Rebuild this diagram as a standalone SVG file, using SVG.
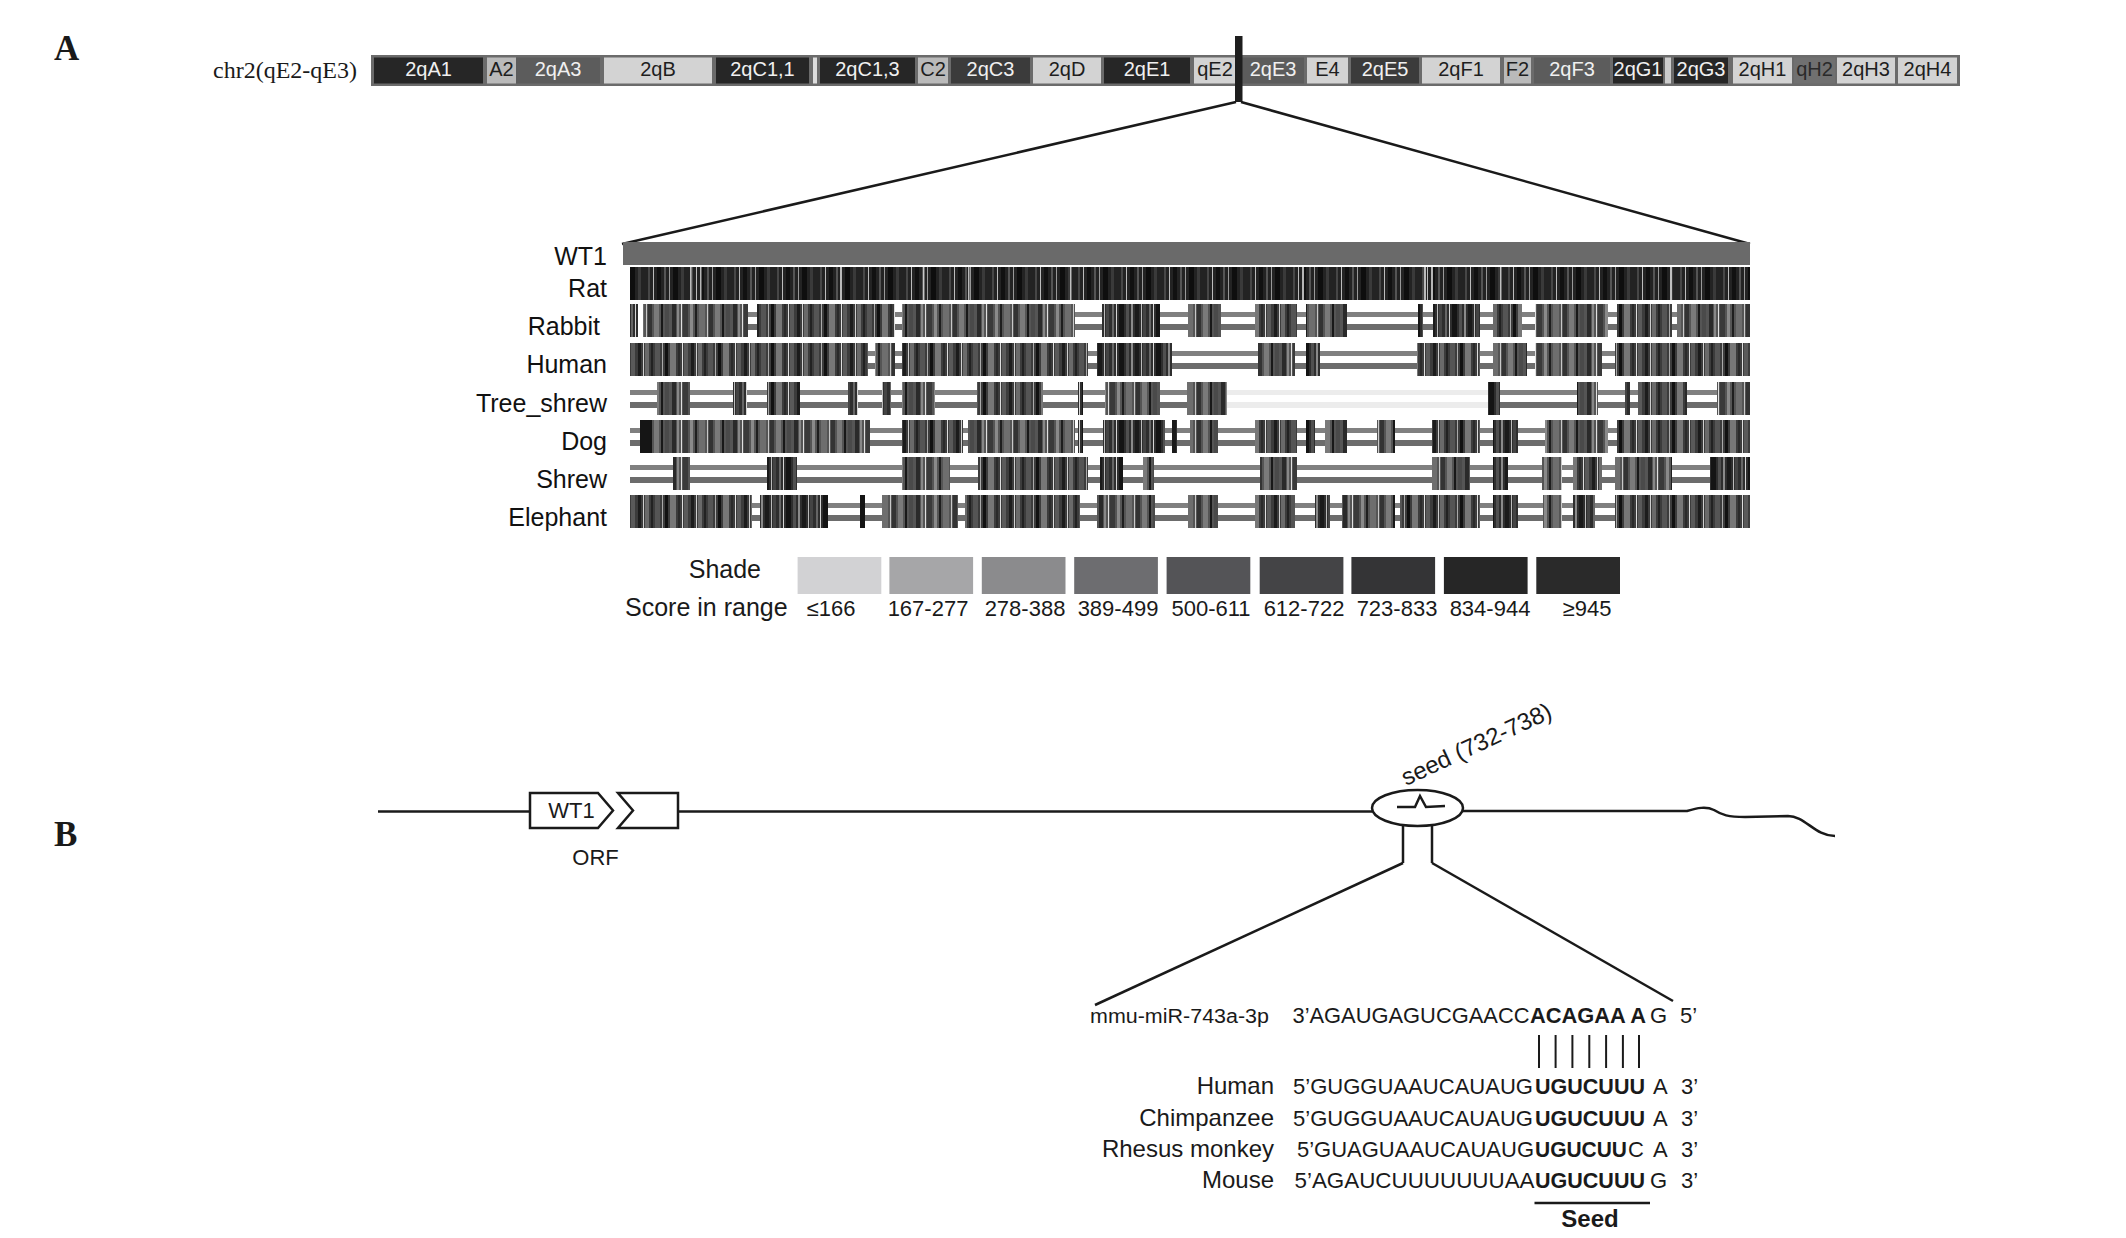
<svg xmlns="http://www.w3.org/2000/svg" width="2126" height="1238" viewBox="0 0 2126 1238">
<defs>
<style>
.sans{font-family:"Liberation Sans",Arial,sans-serif;fill:#1a1a1a}
.serif{font-family:"Liberation Serif","Times New Roman",serif;fill:#1a1a1a}
.bt{font-family:"Liberation Sans",Arial,sans-serif;font-size:20px;text-anchor:middle}
.tw{fill:#f0f0f0}
.tk{fill:#1e1e1e}
.dk{fill:#262626}
.lt{fill:#d3d3d3}
.lg{fill:#bababa}
.md{fill:#5c5c5c}
.dm{fill:#3b3b3b}
.ln{stroke:#1a1a1a;stroke-width:2.5;fill:none}
.sp{font-family:"Liberation Sans",Arial,sans-serif;font-size:25px;text-anchor:end;fill:#111}
.g1{fill:#808080}
.g2{fill:#6c6c6c}
.pa{fill:url(#pa)}
.pb{fill:url(#pb)}
.pc{fill:url(#pc)}
.pd{fill:url(#pd)}
.k{fill:#151515}
.hl{fill:#eeeeee;opacity:0.75}
.lab{font-family:"Liberation Sans",Arial,sans-serif;font-size:22px;text-anchor:middle;fill:#1a1a1a}
.sq{font-family:"Liberation Sans",Arial,sans-serif;font-size:22px;fill:#1a1a1a}
.sqb{font-family:"Liberation Sans",Arial,sans-serif;font-size:22px;font-weight:bold;fill:#1a1a1a}
.spl{font-family:"Liberation Sans",Arial,sans-serif;font-size:24px;text-anchor:end;fill:#1a1a1a}
</style>
<pattern id="pa" patternUnits="userSpaceOnUse" width="43" height="40">
<rect width="43" height="40" fill="#232323"/>
<rect x="3" width="2" height="40" fill="#474747"/>
<rect x="8" width="1" height="40" fill="#bbbbbb"/>
<rect x="12" width="4" height="40" fill="#111111"/>
<rect x="19" width="2" height="40" fill="#555555"/>
<rect x="24" width="1" height="40" fill="#999999"/>
<rect x="28" width="5" height="40" fill="#0e0e0e"/>
<rect x="36" width="3" height="40" fill="#3a3a3a"/>
</pattern>
<pattern id="pb" patternUnits="userSpaceOnUse" width="53" height="40">
<rect width="53" height="40" fill="#3c3c3c"/>
<rect x="2" width="3" height="40" fill="#1c1c1c"/>
<rect x="7" width="1" height="40" fill="#cfcfcf"/>
<rect x="9" width="4" height="40" fill="#6a6a6a"/>
<rect x="15" width="2" height="40" fill="#222222"/>
<rect x="19" width="5" height="40" fill="#555555"/>
<rect x="26" width="1" height="40" fill="#aaaaaa"/>
<rect x="29" width="3" height="40" fill="#111111"/>
<rect x="34" width="6" height="40" fill="#777777"/>
<rect x="42" width="2" height="40" fill="#2a2a2a"/>
<rect x="46" width="1" height="40" fill="#dddddd"/>
<rect x="48" width="4" height="40" fill="#5a5a5a"/>
</pattern>
<pattern id="pc" patternUnits="userSpaceOnUse" width="61" height="40">
<rect width="61" height="40" fill="#555555"/>
<rect x="1" width="4" height="40" fill="#2a2a2a"/>
<rect x="6" width="2" height="40" fill="#888888"/>
<rect x="10" width="1" height="40" fill="#e0e0e0"/>
<rect x="12" width="5" height="40" fill="#3a3a3a"/>
<rect x="19" width="3" height="40" fill="#8a8a8a"/>
<rect x="24" width="2" height="40" fill="#1e1e1e"/>
<rect x="28" width="6" height="40" fill="#6e6e6e"/>
<rect x="36" width="1" height="40" fill="#c8c8c8"/>
<rect x="38" width="4" height="40" fill="#333333"/>
<rect x="44" width="5" height="40" fill="#7a7a7a"/>
<rect x="51" width="2" height="40" fill="#181818"/>
<rect x="55" width="4" height="40" fill="#4a4a4a"/>
</pattern>
<pattern id="pd" patternUnits="userSpaceOnUse" width="37" height="40">
<rect width="37" height="40" fill="#2e2e2e"/>
<rect x="2" width="2" height="40" fill="#666666"/>
<rect x="6" width="1" height="40" fill="#d5d5d5"/>
<rect x="9" width="5" height="40" fill="#141414"/>
<rect x="16" width="3" height="40" fill="#505050"/>
<rect x="21" width="2" height="40" fill="#8a8a8a"/>
<rect x="25" width="4" height="40" fill="#1a1a1a"/>
<rect x="31" width="1" height="40" fill="#bbbbbb"/>
<rect x="33" width="3" height="40" fill="#444444"/>
</pattern>
</defs>
<rect width="2126" height="1238" fill="#ffffff"/>

<g id="panel-labels">
<text class="serif" x="54" y="60" font-size="35" font-weight="bold">A</text>
<text class="serif" x="54" y="846" font-size="35" font-weight="bold">B</text>
</g>

<g id="chromosome">
<text class="serif" x="213" y="78" font-size="24">chr2(qE2-qE3)</text>
<rect x="371" y="55" width="1589" height="31" fill="#6b6b6b"/>
<rect class="dk" x="374" y="57.5" width="109" height="26"/>
<rect class="lg" x="487" y="57.5" width="29" height="26"/>
<rect class="md" x="516" y="57.5" width="84" height="26"/>
<rect class="lt" x="604" y="57.5" width="108" height="26"/>
<rect class="dk" x="716" y="57.5" width="93" height="26"/>
<rect x="813" y="57.5" width="4" height="26" fill="#dddddd"/>
<rect class="dk" x="820" y="57.5" width="95" height="26"/>
<rect class="lg" x="918" y="57.5" width="30" height="26"/>
<rect class="dm" x="951" y="57.5" width="79" height="26"/>
<rect class="lt" x="1033" y="57.5" width="68" height="26"/>
<rect class="dk" x="1104" y="57.5" width="86" height="26"/>
<rect class="lt" x="1194" y="57.5" width="41" height="26"/>
<rect class="md" x="1242" y="57.5" width="62" height="26"/>
<rect class="lt" x="1307" y="57.5" width="41" height="26"/>
<rect class="dm" x="1351" y="57.5" width="68" height="26"/>
<rect class="lt" x="1422" y="57.5" width="78" height="26"/>
<rect class="lg" x="1504" y="57.5" width="27" height="26"/>
<rect class="md" x="1534" y="57.5" width="76" height="26"/>
<rect class="dk" x="1613" y="57.5" width="50" height="26"/>
<rect x="1665" y="57.5" width="6" height="26" fill="#cccccc"/>
<rect class="dk" x="1674" y="57.5" width="54" height="26"/>
<rect class="lt" x="1733" y="57.5" width="59" height="26"/>
<rect x="1794" y="57.5" width="41" height="26" fill="#707070"/>
<rect class="lt" x="1837" y="57.5" width="58" height="26"/>
<rect class="lt" x="1898" y="57.5" width="59" height="26"/>
<g class="bt">
<text class="tw" x="428.5" y="76">2qA1</text>
<text class="tk" x="501.5" y="76">A2</text>
<text class="tw" x="558" y="76">2qA3</text>
<text class="tk" x="658" y="76">2qB</text>
<text class="tw" x="762.5" y="76">2qC1,1</text>
<text class="tw" x="867.5" y="76">2qC1,3</text>
<text class="tk" x="933" y="76">C2</text>
<text class="tw" x="990.5" y="76">2qC3</text>
<text class="tk" x="1067" y="76">2qD</text>
<text class="tw" x="1147" y="76">2qE1</text>
<text class="tk" x="1215" y="76">qE2</text>
<text class="tw" x="1273" y="76">2qE3</text>
<text class="tk" x="1327.5" y="76">E4</text>
<text class="tw" x="1385" y="76">2qE5</text>
<text class="tk" x="1461" y="76">2qF1</text>
<text class="tk" x="1517.5" y="76">F2</text>
<text class="tw" x="1572" y="76">2qF3</text>
<text class="tw" x="1638" y="76">2qG1</text>
<text class="tw" x="1701" y="76">2qG3</text>
<text class="tk" x="1762.5" y="76">2qH1</text>
<text x="1814.5" y="76" fill="#2a2a2a">qH2</text>
<text class="tk" x="1866" y="76">2qH3</text>
<text class="tk" x="1927.5" y="76">2qH4</text>
</g>
<rect x="1235" y="36" width="7.5" height="66" fill="#1e1e1e"/>
</g>

<g id="connectors">
<line class="ln" x1="1236" y1="102" x2="622" y2="244"/>
<line class="ln" x1="1241" y1="102" x2="1750" y2="244"/>
<line class="ln" x1="1403" y1="825" x2="1403" y2="863"/>
<line class="ln" x1="1432" y1="825" x2="1432" y2="863"/>
<line class="ln" x1="1403" y1="863" x2="1095" y2="1005"/>
<line class="ln" x1="1432" y1="863" x2="1673" y2="1001"/>
</g>

<g id="alignment">
<text class="sp" x="607" y="265">WT1</text>
<text class="sp" x="607" y="297">Rat</text>
<text class="sp" x="600" y="335">Rabbit</text>
<text class="sp" x="607" y="373">Human</text>
<text class="sp" x="607" y="412">Tree_shrew</text>
<text class="sp" x="607" y="450">Dog</text>
<text class="sp" x="607" y="488">Shrew</text>
<text class="sp" x="607" y="526">Elephant</text>
<rect x="623" y="242" width="1127" height="23" fill="#6a6a6a"/>

<g id="row-rat" transform="translate(0,267)">
<rect class="pa" x="630" width="1120" height="33"/>
<rect class="hl" x="690" width="1.5" height="33"/>
<rect class="hl" x="700" width="1.5" height="33"/>
<rect class="hl" x="840" width="1.5" height="33"/>
<rect class="hl" x="923" width="1.5" height="33"/>
<rect class="hl" x="968" width="1.5" height="33"/>
<rect class="hl" x="1070" width="1.5" height="33"/>
<rect class="hl" x="1302" width="2" height="33"/>
<rect class="hl" x="1424" width="2" height="33"/>
<rect class="hl" x="1431" width="2" height="33"/>
<rect class="hl" x="1500" width="1.5" height="33"/>
<rect class="hl" x="1670" width="2" height="33"/>
</g>

<g id="row-rabbit" transform="translate(0,304)">
<rect class="g1" x="630" y="8" width="1120" height="5"/>
<rect class="g2" x="630" y="20" width="1120" height="6"/>
<rect fill="#ffffff" x="638" width="5" height="33"/>
<rect class="pd" x="630" width="8" height="33"/>
<rect class="pc" x="643" width="105" height="33"/>
<rect class="pb" x="757" width="138" height="33"/>
<rect class="pc" x="902" width="173" height="33"/>
<rect class="pd" x="1102" width="58" height="33"/>
<rect class="pc" x="1188" width="33" height="33"/>
<rect class="pb" x="1255" width="42" height="33"/>
<rect class="pc" x="1306" width="41" height="33"/>
<rect class="pd" x="1418" width="5" height="33"/>
<rect class="pd" x="1433" width="47" height="33"/>
<rect class="pb" x="1493" width="29" height="33"/>
<rect class="pc" x="1535" width="73" height="33"/>
<rect class="pb" x="1617" width="55" height="33"/>
<rect class="pc" x="1677" width="73" height="33"/>
</g>

<g id="row-human" transform="translate(0,343)">
<rect class="g1" x="630" y="8" width="1120" height="5"/>
<rect class="g2" x="630" y="20" width="1120" height="6"/>
<rect class="pb" x="630" width="238" height="33"/>
<rect class="pc" x="875" width="20" height="33"/>
<rect class="pb" x="902" width="186" height="33"/>
<rect class="pd" x="1097" width="75" height="33"/>
<rect class="pc" x="1258" width="37" height="33"/>
<rect class="pd" x="1306" width="14" height="33"/>
<rect class="pb" x="1417" width="63" height="33"/>
<rect class="pc" x="1493" width="34" height="33"/>
<rect class="pc" x="1535" width="67" height="33"/>
<rect class="pb" x="1615" width="135" height="33"/>
</g>

<g id="row-tree-shrew" transform="translate(0,382)">
<rect class="g1" x="630" y="8" width="597" height="5"/>
<rect class="g2" x="630" y="20" width="597" height="6"/>
<rect class="g1" x="1488" y="8" width="262" height="5"/>
<rect class="g2" x="1488" y="20" width="262" height="6"/>
<rect x="1227" y="8" width="261" height="5" fill="#ececec"/>
<rect x="1227" y="20" width="261" height="6" fill="#ececec"/>
<rect class="pc" x="657" width="33" height="33"/>
<rect class="pd" x="733" width="14" height="33"/>
<rect class="pb" x="767" width="33" height="33"/>
<rect class="pd" x="848" width="10" height="33"/>
<rect class="pd" x="882" width="9" height="33"/>
<rect class="pc" x="902" width="33" height="33"/>
<rect class="pb" x="977" width="66" height="33"/>
<rect class="pd" x="1078" width="5" height="33"/>
<rect class="pc" x="1105" width="55" height="33"/>
<rect class="pc" x="1187" width="40" height="33"/>
<rect class="pd" x="1488" width="12" height="33"/>
<rect class="pc" x="1577" width="21" height="33"/>
<rect class="pd" x="1625" width="5" height="33"/>
<rect class="pb" x="1638" width="49" height="33"/>
<rect class="pc" x="1717" width="33" height="33"/>
</g>

<g id="row-dog" transform="translate(0,420)">
<rect class="g1" x="630" y="8" width="1120" height="5"/>
<rect class="g2" x="630" y="20" width="1120" height="6"/>
<rect class="k" x="640" width="12" height="33"/>
<rect class="pc" x="652" width="218" height="33"/>
<rect class="pb" x="902" width="61" height="33"/>
<rect class="pc" x="968" width="107" height="33"/>
<rect class="pd" x="1078" width="5" height="33"/>
<rect class="pd" x="1103" width="62" height="33"/>
<rect class="pd" x="1172" width="5" height="33"/>
<rect class="pc" x="1190" width="28" height="33"/>
<rect class="pb" x="1255" width="42" height="33"/>
<rect class="pd" x="1306" width="9" height="33"/>
<rect class="pc" x="1325" width="22" height="33"/>
<rect class="pc" x="1377" width="18" height="33"/>
<rect class="pb" x="1432" width="48" height="33"/>
<rect class="pd" x="1493" width="25" height="33"/>
<rect class="pc" x="1545" width="63" height="33"/>
<rect class="pb" x="1617" width="133" height="33"/>
</g>

<g id="row-shrew" transform="translate(0,457)">
<rect class="g1" x="630" y="8" width="1120" height="5"/>
<rect class="g2" x="630" y="20" width="1120" height="6"/>
<rect class="pc" x="673" width="17" height="33"/>
<rect class="pd" x="767" width="30" height="33"/>
<rect class="pc" x="902" width="48" height="33"/>
<rect class="pb" x="978" width="110" height="33"/>
<rect class="pd" x="1100" width="23" height="33"/>
<rect class="pc" x="1143" width="11" height="33"/>
<rect class="pc" x="1260" width="37" height="33"/>
<rect class="pc" x="1432" width="38" height="33"/>
<rect class="pd" x="1493" width="15" height="33"/>
<rect class="pc" x="1542" width="20" height="33"/>
<rect class="pb" x="1573" width="29" height="33"/>
<rect class="pc" x="1615" width="57" height="33"/>
<rect class="pd" x="1710" width="40" height="33"/>
</g>

<g id="row-elephant" transform="translate(0,495)">
<rect class="g1" x="630" y="8" width="1120" height="5"/>
<rect class="g2" x="630" y="20" width="1120" height="6"/>
<rect class="pb" x="630" width="122" height="33"/>
<rect class="pd" x="760" width="68" height="33"/>
<rect class="pd" x="860" width="5" height="33"/>
<rect class="pc" x="882" width="76" height="33"/>
<rect class="pb" x="965" width="115" height="33"/>
<rect class="pc" x="1097" width="58" height="33"/>
<rect class="pc" x="1188" width="30" height="33"/>
<rect class="pb" x="1255" width="40" height="33"/>
<rect class="pd" x="1315" width="15" height="33"/>
<rect class="pc" x="1342" width="53" height="33"/>
<rect class="pb" x="1400" width="80" height="33"/>
<rect class="pd" x="1493" width="25" height="33"/>
<rect class="pc" x="1543" width="19" height="33"/>
<rect class="pd" x="1573" width="22" height="33"/>
<rect class="pb" x="1615" width="135" height="33"/>
</g>
</g>

<g id="legend">
<text class="sans" x="761" y="578" font-size="25" text-anchor="end">Shade</text>
<text class="sans" x="625" y="616" font-size="25">Score in range</text>
<rect x="797.6" y="557" width="83.7" height="37" fill="#d2d2d4"/>
<rect x="889.4" y="557" width="83.7" height="37" fill="#a6a6a8"/>
<rect x="981.8" y="557" width="83.7" height="37" fill="#8b8b8d"/>
<rect x="1074.2" y="557" width="83.7" height="37" fill="#6d6d70"/>
<rect x="1166.6" y="557" width="83.7" height="37" fill="#545457"/>
<rect x="1259.7" y="557" width="83.7" height="37" fill="#444446"/>
<rect x="1351.4" y="557" width="83.7" height="37" fill="#343436"/>
<rect x="1443.9" y="557" width="83.7" height="37" fill="#262626"/>
<rect x="1536.3" y="557" width="83.7" height="37" fill="#2a2a2a"/>
<text class="lab" x="831" y="616">≤166</text>
<text class="lab" x="928" y="616">167-277</text>
<text class="lab" x="1025" y="616">278-388</text>
<text class="lab" x="1118" y="616">389-499</text>
<text class="lab" x="1211" y="616">500-611</text>
<text class="lab" x="1304" y="616">612-722</text>
<text class="lab" x="1397" y="616">723-833</text>
<text class="lab" x="1490" y="616">834-944</text>
<text class="lab" x="1587" y="616">≥945</text>
</g>

<g id="transcript">
<path class="ln" d="M378 811.5 H530"/>
<path class="ln" d="M678 811.5 H1372"/>
<path class="ln" d="M1463 811 H1687 C1697 808 1706 806 1714 810 C1722 815 1728 817 1745 817 L1788 816 C1805 816 1815 836 1835 836"/>
</g>

<g id="orf">
<polygon points="530,793 598,793 613,810.5 598,828 530,828" fill="#ffffff" stroke="#1a1a1a" stroke-width="2.5"/>
<polygon points="618,793 678,793 678,828 618,828 633,810.5" fill="#ffffff" stroke="#1a1a1a" stroke-width="2.5"/>
<text class="sans" x="571.5" y="818" font-size="22" text-anchor="middle">WT1</text>
<text class="sans" x="595.5" y="865" font-size="22" text-anchor="middle">ORF</text>
</g>

<g id="seed-site">
<ellipse cx="1417.5" cy="808" rx="45.5" ry="18" fill="none" stroke="#1a1a1a" stroke-width="2.5"/>
<polyline points="1397,807 1415,807 1420,796 1426,807 1445,806" fill="none" stroke="#1a1a1a" stroke-width="2.5"/>
<text class="sans" transform="translate(1406,786) rotate(-25)" font-size="24">seed (732-738)</text>
</g>

<g id="sequences">
<text class="sans" x="1090" y="1023" font-size="20" textLength="179" lengthAdjust="spacingAndGlyphs">mmu-miR-743a-3p</text>
<text class="sq" x="1292.5" y="1023" textLength="237" lengthAdjust="spacingAndGlyphs">3’AGAUGAGUCGAACC</text>
<text class="sqb" x="1530" y="1023" textLength="116" lengthAdjust="spacingAndGlyphs">ACAGAA A</text>
<text class="sq" x="1650" y="1023">G</text>
<text class="sq" x="1680" y="1023">5’</text>
<g stroke="#1a1a1a" stroke-width="2">
<line x1="1539" y1="1035" x2="1539" y2="1068"/>
<line x1="1555.6" y1="1035" x2="1555.6" y2="1068"/>
<line x1="1572.4" y1="1035" x2="1572.4" y2="1068"/>
<line x1="1589.3" y1="1035" x2="1589.3" y2="1068"/>
<line x1="1606.1" y1="1035" x2="1606.1" y2="1068"/>
<line x1="1622.9" y1="1035" x2="1622.9" y2="1068"/>
<line x1="1639" y1="1035" x2="1639" y2="1068"/>
</g>
<text class="spl" x="1274" y="1094">Human</text>
<text class="spl" x="1274" y="1126">Chimpanzee</text>
<text class="spl" x="1274" y="1157">Rhesus monkey</text>
<text class="spl" x="1274" y="1188">Mouse</text>
<text class="sq" x="1293" y="1094" textLength="240" lengthAdjust="spacingAndGlyphs">5’GUGGUAAUCAUAUG</text>
<text class="sqb" x="1535" y="1094" textLength="110" lengthAdjust="spacingAndGlyphs">UGUCUUU</text>
<text class="sq" x="1653" y="1094">A</text>
<text class="sq" x="1681" y="1094">3’</text>
<text class="sq" x="1293" y="1126" textLength="240" lengthAdjust="spacingAndGlyphs">5’GUGGUAAUCAUAUG</text>
<text class="sqb" x="1535" y="1126" textLength="110" lengthAdjust="spacingAndGlyphs">UGUCUUU</text>
<text class="sq" x="1653" y="1126">A</text>
<text class="sq" x="1681" y="1126">3’</text>
<text class="sq" x="1297" y="1157" textLength="237" lengthAdjust="spacingAndGlyphs">5’GUAGUAAUCAUAUG</text>
<text class="sqb" x="1535" y="1157" textLength="92" lengthAdjust="spacingAndGlyphs">UGUCUU</text>
<text class="sq" x="1628" y="1157">C</text>
<text class="sq" x="1653" y="1157">A</text>
<text class="sq" x="1681" y="1157">3’</text>
<text class="sq" x="1294.5" y="1188" textLength="240" lengthAdjust="spacingAndGlyphs">5’AGAUCUUUUUUUAA</text>
<text class="sqb" x="1535" y="1188" textLength="110" lengthAdjust="spacingAndGlyphs">UGUCUUU</text>
<text class="sq" x="1650" y="1188">G</text>
<text class="sq" x="1681" y="1188">3’</text>
<line x1="1534.5" y1="1203" x2="1650" y2="1203" stroke="#1a1a1a" stroke-width="2.5"/>
<text class="sans" x="1590" y="1227" font-size="24" font-weight="bold" text-anchor="middle">Seed</text>
</g>
</svg>
